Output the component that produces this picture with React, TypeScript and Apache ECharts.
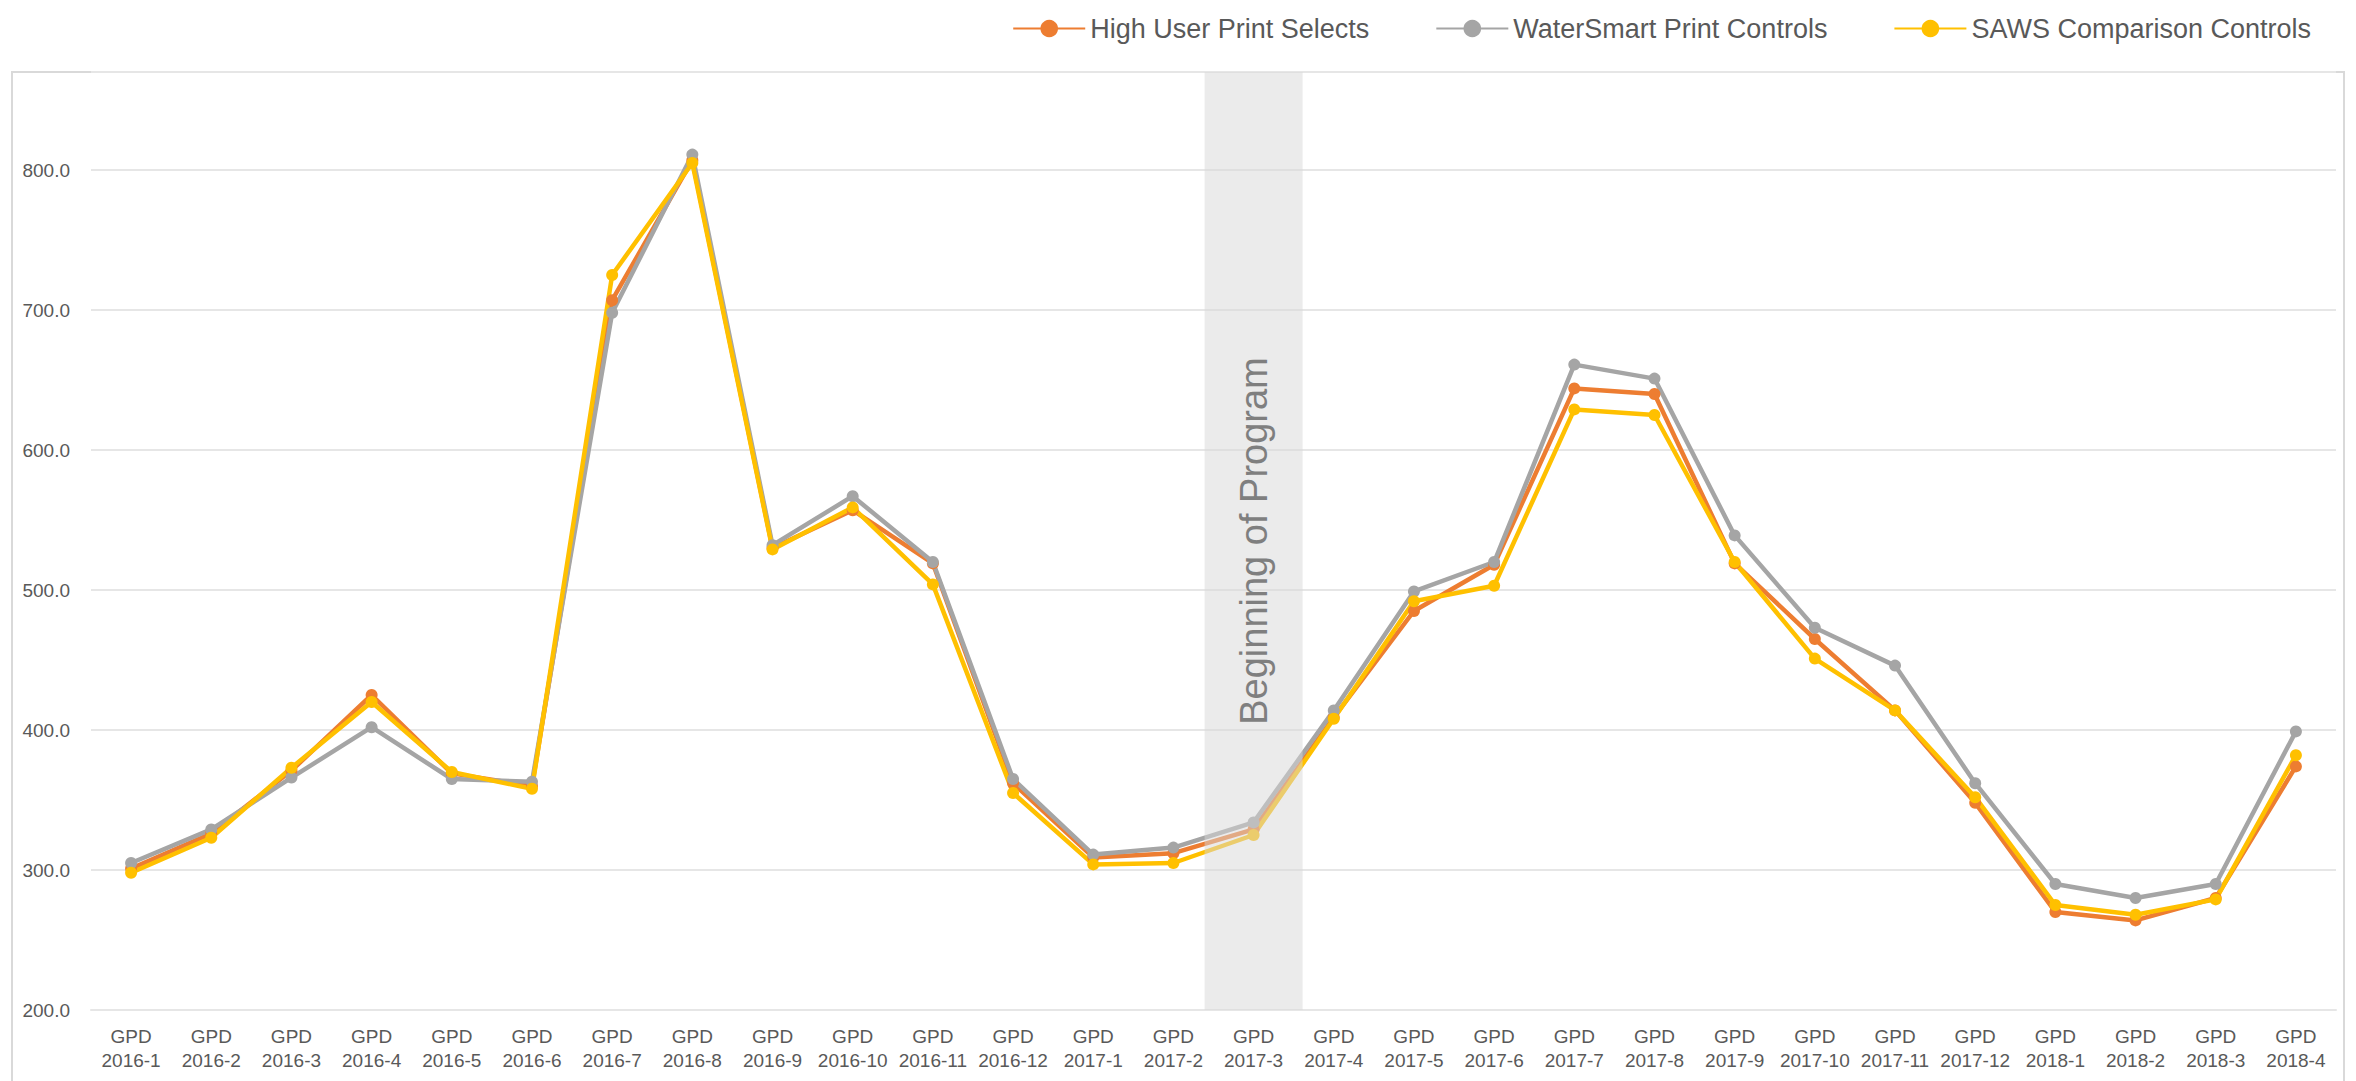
import React, { useEffect, useRef } from "react";
import * as echarts from "echarts";

const categories = [
  "2016-1", "2016-2", "2016-3", "2016-4", "2016-5", "2016-6", "2016-7", "2016-8", "2016-9", "2016-10", "2016-11", "2016-12",
  "2017-1", "2017-2", "2017-3", "2017-4", "2017-5", "2017-6", "2017-7", "2017-8", "2017-9", "2017-10", "2017-11", "2017-12",
  "2018-1", "2018-2", "2018-3", "2018-4",
];

const highUserPrintSelects = [
  301, 326, 371, 425, 369, 360, 707, 807, 530, 557, 519, 362,
  309, 312, 329, 409, 485, 518, 644, 640, 519, 465, 414, 348,
  270, 264, 280, 374,
];

const waterSmartPrintControls = [
  305, 329, 366, 402, 365, 363, 698, 811, 532, 567, 520, 365,
  311, 316, 334, 414, 499, 520, 661, 651, 539, 473, 446, 362,
  290, 280, 290, 399,
];

const sawsComparisonControls = [
  298, 323, 373, 420, 370, 358, 725, 805, 529, 559, 504, 355,
  304, 305, 325, 408, 492, 503, 629, 625, 520, 451, 414, 352,
  275, 268, 279, 382,
];

const programStartIndex = 14;
const programLabel = "Beginning of Program";
const yMin = 200;
const yMax = 870;
const yInterval = 100;

const seriesNames = ["High User Print Selects", "WaterSmart Print Controls", "SAWS Comparison Controls"];
const seriesColors = ["#ED7D31", "#A5A5A5", "#FFC000"];

export default function App() {
  const ref = useRef<HTMLDivElement>(null);

  useEffect(() => {
    if (!ref.current) return;
    const chart = echarts.init(ref.current, null, { renderer: "svg" });
    const font = "Liberation Sans, Arial, sans-serif";
    const values = [highUserPrintSelects, waterSmartPrintControls, sawsComparisonControls];
    const bandData = categories.map((_, i) => (i === programStartIndex ? yMax : null));

    chart.setOption({
      animation: false,
      backgroundColor: "#ffffff",
      textStyle: { fontFamily: font },
      graphic: [
        {
          type: "rect",
          shape: { x: 12, y: 72, width: 2332, height: 1030 },
          style: { fill: "none", stroke: "#d9d9d9", lineWidth: 2 },
          silent: true,
          z: 0,
        },
      ],
      legend: {
        data: seriesNames,
        top: 10,
        right: 40,
        itemWidth: 72,
        itemHeight: 22,
        itemGap: 66,
        textStyle: { fontSize: 27, color: "#595959", fontFamily: font },
      },
      grid: { left: 91, right: 20, top: 72, bottom: 71, containLabel: false },
      xAxis: {
        type: "category",
        data: categories,
        boundaryGap: true,
        axisLine: { show: true, lineStyle: { color: "#e6e6e6", width: 2 } },
        axisTick: { show: false },
        axisLabel: {
          interval: 0,
          margin: 14,
          fontSize: 19,
          lineHeight: 24,
          color: "#595959",
          fontFamily: font,
          formatter: (v: string) => "GPD\n" + v,
        },
      },
      yAxis: {
        type: "value",
        min: yMin,
        max: yMax,
        interval: yInterval,
        axisLine: { show: false },
        axisTick: { show: false },
        splitLine: { lineStyle: { color: "#e6e6e6", width: 2 } },
        axisLabel: {
          margin: 21,
          fontSize: 19,
          color: "#595959",
          fontFamily: font,
          formatter: (v: number) => (v % 100 === 0 ? v.toFixed(1) : ""),
        },
      },
      series: [
        ...seriesNames.map((name, i) => ({
          name,
          type: "line",
          data: values[i],
          z: 2,
          symbol: "circle",
          symbolSize: 12,
          lineStyle: { width: 4.5, color: seriesColors[i] },
          itemStyle: { color: seriesColors[i] },
        })),
        {
          name: "band",
          type: "bar",
          data: bandData,
          barWidth: 98,
          clip: true,
          z: 5,
          silent: true,
          itemStyle: { color: "rgba(215,215,215,0.5)" },
          label: {
            show: true,
            position: "inside",
            rotate: 90,
            formatter: programLabel,
            fontSize: 38,
            color: "#7f7f7f",
            fontFamily: font,
          },
        },
      ],
    });

    return () => chart.dispose();
  }, []);

  return (
    <div
      ref={ref}
      style={{ position: "fixed", left: 0, top: 0, width: 2356, height: 1081 }}
    />
  );
}
